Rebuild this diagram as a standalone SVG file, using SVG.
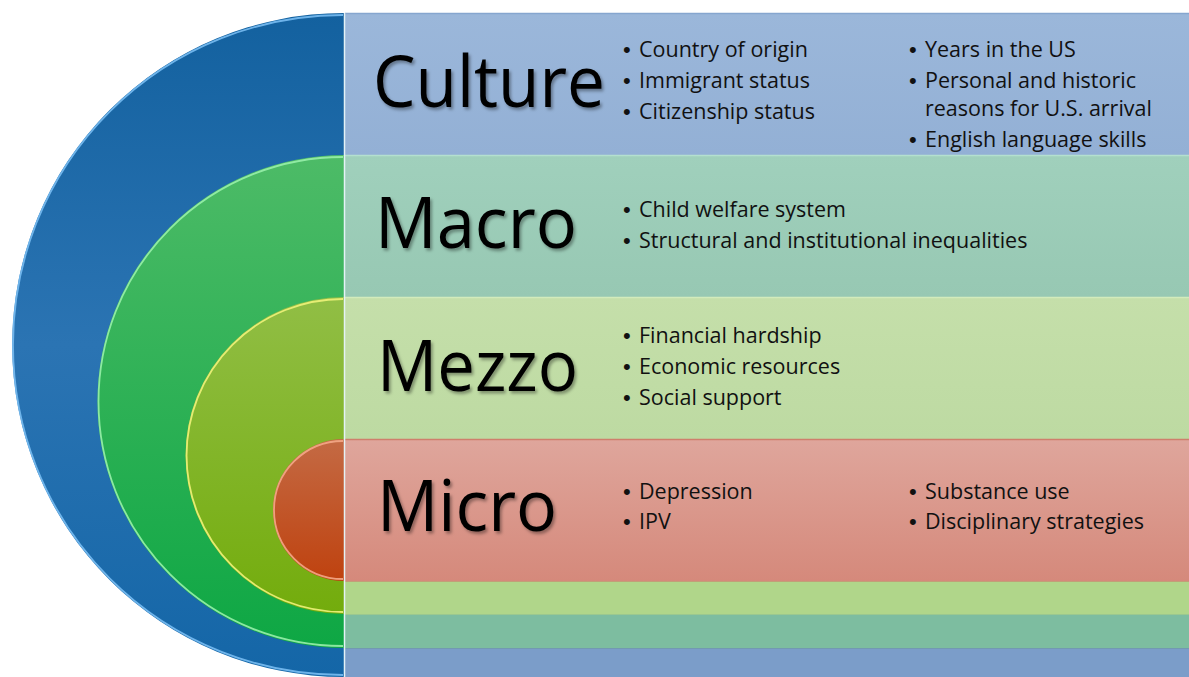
<svg xmlns="http://www.w3.org/2000/svg" width="1189" height="677" viewBox="0 0 1189 677">
<defs>
<linearGradient id="gBlue" x1="0" y1="0" x2="0" y2="1">
<stop offset="0" stop-color="#13619f"/><stop offset="0.5" stop-color="#2b74b3"/><stop offset="1" stop-color="#1466a7"/>
</linearGradient>
<linearGradient id="gGreen" x1="0" y1="0" x2="0" y2="1">
<stop offset="0" stop-color="#4dbb67"/><stop offset="1" stop-color="#0ea744"/>
</linearGradient>
<linearGradient id="gLime" x1="0" y1="0" x2="0" y2="1">
<stop offset="0" stop-color="#91be45"/><stop offset="1" stop-color="#73ac0c"/>
</linearGradient>
<linearGradient id="gRed" x1="0" y1="0" x2="0" y2="1">
<stop offset="0" stop-color="#c46a44"/><stop offset="1" stop-color="#bf420f"/>
</linearGradient>
<linearGradient id="gMicroBand" x1="0" y1="0" x2="0" y2="1">
<stop offset="0" stop-color="#dfa69c"/><stop offset="1" stop-color="#d5897b"/>
</linearGradient>
<linearGradient id="gCultBand" x1="0" y1="0" x2="0" y2="1">
<stop offset="0" stop-color="#9bb7da"/><stop offset="1" stop-color="#93b0d5"/>
</linearGradient>
<linearGradient id="gMacroBand" x1="0" y1="0" x2="0" y2="1">
<stop offset="0" stop-color="#a0d0bc"/><stop offset="1" stop-color="#97c8b3"/>
</linearGradient>
<linearGradient id="gMezzoBand" x1="0" y1="0" x2="0" y2="1">
<stop offset="0" stop-color="#c5dfaa"/><stop offset="1" stop-color="#bddaa2"/>
</linearGradient>
<filter id="shadow" x="-10%" y="-20%" width="130%" height="150%">
<feDropShadow dx="2" dy="2.5" stdDeviation="1.5" flood-color="#000" flood-opacity="0.35"/>
</filter>
<style>
.big{font-family:"Open Sans","Liberation Sans",sans-serif;font-size:71px;fill:#000;filter:url(#shadow)}
.item{font-family:"Open Sans","Liberation Sans",sans-serif;font-size:21.5px;fill:#111}
.b{font-family:"Liberation Sans",sans-serif;font-size:22px}
.rim{fill:none;stroke-width:1.8}
.sep{stroke-width:1.5}
</style>
</defs>

<g id="culture">
<path d="M344,13 A332,332 0 0 0 344,677 Z" fill="url(#gBlue)"/>
<path class="rim" d="M343,15 A330,330 0 0 0 343,675" stroke="#78bdf2" stroke-opacity="0.9"/>
<rect x="345" y="13" width="844" height="142" fill="url(#gCultBand)"/>
<rect x="345" y="648" width="844" height="29" fill="#7b9dc9"/>
<line class="sep" x1="345" y1="13.5" x2="1189" y2="13.5" stroke="#86a6cf"/>
<line class="sep" x1="345" y1="648" x2="1189" y2="648" stroke="#6f99a9"/>
<text class="big" x="373" y="107" textLength="232" lengthAdjust="spacingAndGlyphs">Culture</text>
<text class="item" y="57"><tspan class="b" x="623">•</tspan><tspan x="639">Country of origin</tspan></text>
<text class="item" y="88"><tspan class="b" x="623">•</tspan><tspan x="639">Immigrant status</tspan></text>
<text class="item" y="119"><tspan class="b" x="623">•</tspan><tspan x="639">Citizenship status</tspan></text>
<text class="item" y="57"><tspan class="b" x="909">•</tspan><tspan x="925">Years in the US</tspan></text>
<text class="item" y="88"><tspan class="b" x="909">•</tspan><tspan x="925">Personal and historic</tspan></text>
<text class="item" y="116"><tspan x="925">reasons for U.S. arrival</tspan></text>
<text class="item" y="147"><tspan class="b" x="909">•</tspan><tspan x="925">English language skills</tspan></text>
</g>

<g id="macro">
<path d="M344,155 A246.5,246.5 0 0 0 344,648 Z" fill="url(#gGreen)"/>
<path class="rim" d="M343,157 A244.5,244.5 0 0 0 343,646" stroke="#98f0aa" stroke-opacity="0.9"/>
<rect x="345" y="155" width="844" height="142" fill="url(#gMacroBand)"/>
<rect x="345" y="614" width="844" height="34" fill="#7dbda0"/>
<line class="sep" x1="345" y1="155.5" x2="1189" y2="155.5" stroke="#b4e0cf"/>
<line class="sep" x1="345" y1="614" x2="1189" y2="614" stroke="#a6cd8a"/>
<text class="big" x="375" y="248" textLength="202" lengthAdjust="spacingAndGlyphs">Macro</text>
<text class="item" y="217"><tspan class="b" x="623">•</tspan><tspan x="639">Child welfare system</tspan></text>
<text class="item" y="248"><tspan class="b" x="623">•</tspan><tspan x="639">Structural and institutional inequalities</tspan></text>
</g>

<g id="mezzo">
<path d="M344,297 A158.5,158.5 0 0 0 344,614 Z" fill="url(#gLime)"/>
<path class="rim" d="M343,299 A156.5,156.5 0 0 0 343,612" stroke="#f0f27a" stroke-opacity="0.9"/>
<rect x="345" y="297" width="844" height="142" fill="url(#gMezzoBand)"/>
<rect x="345" y="581" width="844" height="33" fill="#b0d68a"/>
<line class="sep" x1="345" y1="297.5" x2="1189" y2="297.5" stroke="#d2ebbc"/>
<line class="sep" x1="345" y1="581" x2="1189" y2="581" stroke="#c98d72"/>
<text class="big" x="377" y="391" textLength="201" lengthAdjust="spacingAndGlyphs">Mezzo</text>
<text class="item" y="343"><tspan class="b" x="623">•</tspan><tspan x="639">Financial hardship</tspan></text>
<text class="item" y="374"><tspan class="b" x="623">•</tspan><tspan x="639">Economic resources</tspan></text>
<text class="item" y="405"><tspan class="b" x="623">•</tspan><tspan x="639">Social support</tspan></text>
</g>

<g id="micro">
<path d="M344,439 A71,71 0 0 0 344,581 Z" fill="url(#gRed)"/>
<path class="rim" d="M343,441 A69,69 0 0 0 343,579" stroke="#f4a888" stroke-opacity="0.9"/>
<rect x="345" y="439" width="844" height="142" fill="url(#gMicroBand)"/>
<line class="sep" x1="345" y1="439.5" x2="1189" y2="439.5" stroke="#cf7f6c"/>
<text class="big" x="377" y="531" textLength="180" lengthAdjust="spacingAndGlyphs">Micro</text>
<text class="item" y="499"><tspan class="b" x="623">•</tspan><tspan x="639">Depression</tspan></text>
<text class="item" y="529"><tspan class="b" x="623">•</tspan><tspan x="639">IPV</tspan></text>
<text class="item" y="499"><tspan class="b" x="909">•</tspan><tspan x="925">Substance use</tspan></text>
<text class="item" y="529"><tspan class="b" x="909">•</tspan><tspan x="925">Disciplinary strategies</tspan></text>
</g>

<line x1="344.5" y1="13" x2="344.5" y2="677" stroke="#e4f2f6" stroke-width="1.5"/>
</svg>
